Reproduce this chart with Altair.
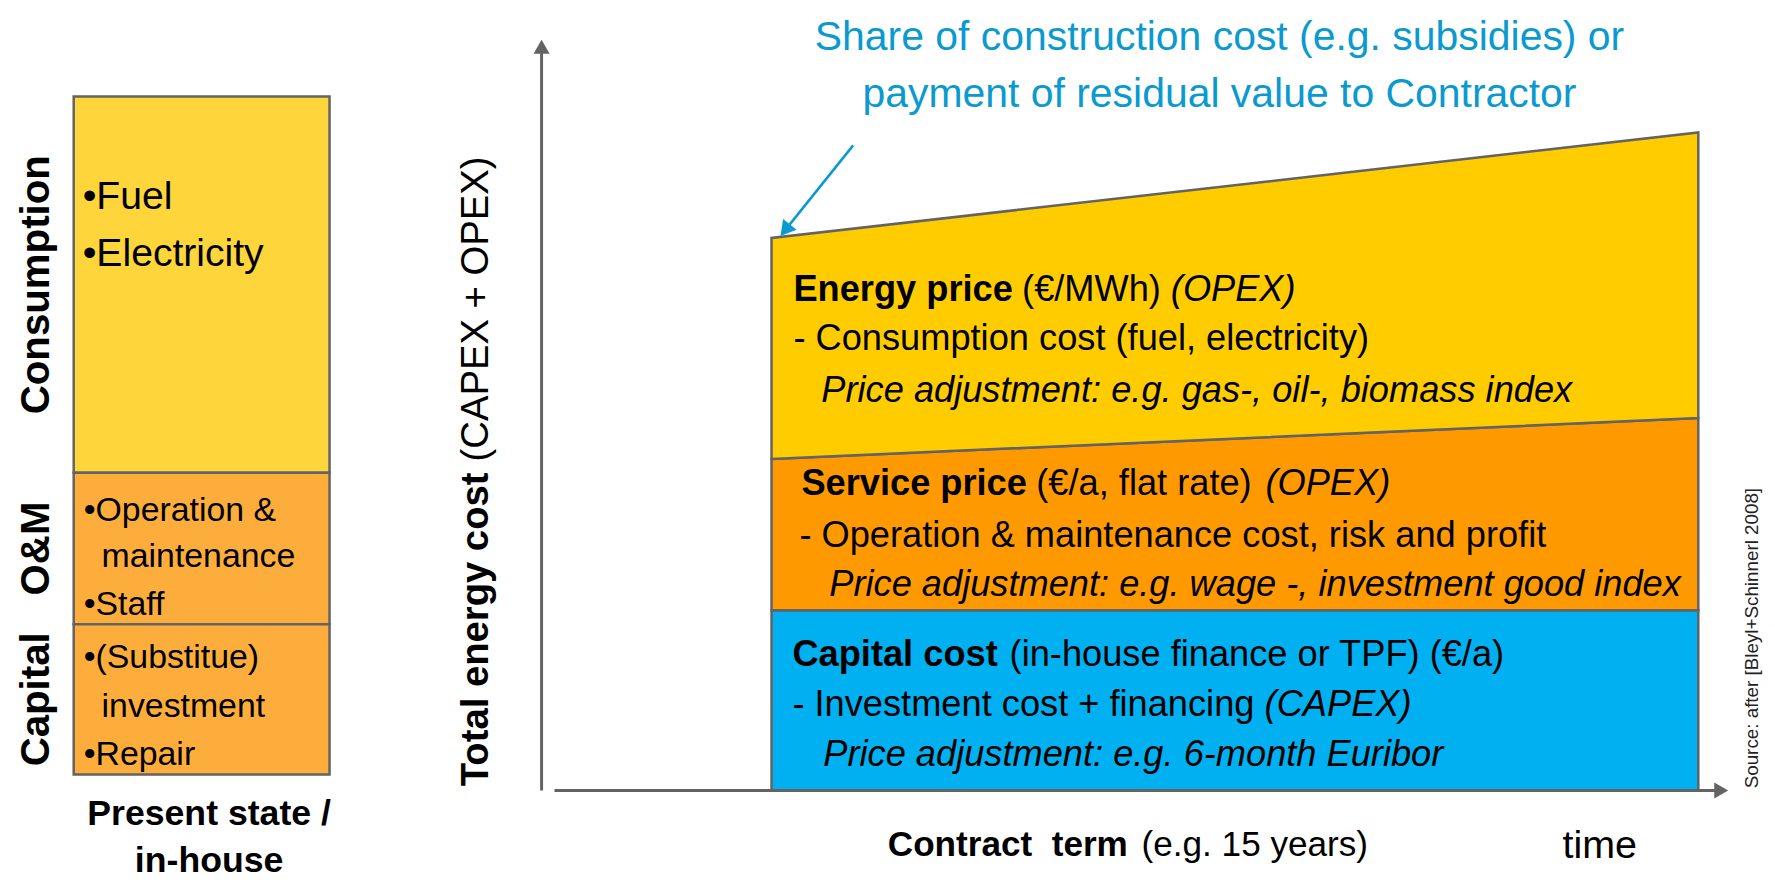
import math
import altair as alt
import pandas as pd

FONT = "Liberation Sans"
FACTOR = 0.86            # narrow-face sizes below -> regular face
STRETCH = FACTOR / 0.82  # how much wider the regular face renders than the narrow original

W, H = 1767, 872
X0, Y0 = 8, 8
xsc = alt.Scale(domain=[X0, X0 + W], nice=False, zero=False)
ysc = alt.Scale(domain=[Y0, Y0 + H], nice=False, zero=False, reverse=True)

OUTLINE = "#636363"

# ---------------- left column: present state / in-house ----------------
present_labels = ["Consumption", "O&M", "Capital"]
present_top = [95, 473, 625]
present_bottom = [473, 625, 776]
present_colors = ["#FED63C", "#FDAD3C", "#FDAD3C"]
present_left, present_right = 74, 331
present_label_x = 49

present_items = ["•Fuel", "•Electricity",
                 "•Operation &", "maintenance", "•Staff",
                 "•(Substitue)", "investment", "•Repair"]
present_items_x = [83, 83, 84, 102, 84, 84, 102, 84]
present_items_y = [208, 265, 521, 568, 616, 669, 718, 766]
present_items_size = [45.7, 45.7, 39.5, 39.5, 39.5, 39.5, 39.5, 39.5]

present_caption = ["Present state /", "in-house"]
present_caption_y = [827, 874]

# ---------------- main chart: contract model ----------------
term_x = [775, 1706]          # start / end of contract term
base_level = [792, 792]
capital_top = [611, 611]
service_top = [459, 418]
energy_top = [237, 131]
band_colors = ["#00B0F0", "#FF9900", "#FFCC00"]

axis_y_x = 544
axis_y_range = [792, 51]
axis_x_y = 792
axis_x_range = [557, 1723]

# annotation
note_lines = ["Share of construction cost (e.g. subsidies) or",
              "payment of residual value to Contractor"]
note_x = 1225
note_y = [48, 105]
note_color = "#0A9ACF"
arrow_start = (857, 144)
arrow_tip = (784, 235)

# band texts: (text, x, y, weight, style, align); first entry of each line is its left start
energy_texts = [("Energy price", 797, 300, "bold", "normal", "left"),
                ("(€/MWh)", 1016, 300, "normal", "normal", "left"),
                ("(OPEX)", 1278, 300, "normal", "italic", "right"),
                ("- Consumption cost (fuel, electricity)", 797, 350, "normal", "normal", "left"),
                ("Price adjustment: e.g. gas-, oil-, biomass index", 825, 402, "normal", "italic", "left")]
service_texts = [("Service price", 805, 495, "bold", "normal", "left"),
                 ("(€/a, flat rate)", 1030, 495, "normal", "normal", "left"),
                 ("(OPEX)", 1369, 495, "normal", "italic", "right"),
                 ("- Operation & maintenance cost, risk and profit", 803, 547, "normal", "normal", "left"),
                 ("Price adjustment: e.g. wage -, investment good index", 833, 597, "normal", "italic", "left")]
capital_texts = [("Capital cost", 796, 667, "bold", "normal", "left"),
                 ("(in-house finance or TPF) (€/a)", 1004, 667, "normal", "normal", "left"),
                 ("- Investment cost + financing", 796, 717, "normal", "normal", "left"),
                 ("(CAPEX)", 1389, 717, "normal", "italic", "right"),
                 ("Price adjustment: e.g. 6-month Euribor", 827, 767, "normal", "italic", "left")]
band_text_size = 42.3

y_title_bold = "Total energy cost"
y_title_rest = "(CAPEX + OPEX)"
y_title_x = 490
y_title_span = [773, 170]

x_title_bold = "Contract\u00a0 term"
x_title_rest = "(e.g. 15 years)"
x_title_span = [903, 1363]
x_title_y = 858
time_label = "time"
time_xy = (1607, 860)

source_text = "Source: after [Bleyl+Schinnerl 2008]"
source_xy = (1766, 639)


def X(f="x"):
    return alt.X(f"{f}:Q", scale=xsc, axis=None)


def Y(f="y"):
    return alt.Y(f"{f}:Q", scale=ysc, axis=None)


def stretch(v, pivot):
    return pivot + (v - pivot) * STRETCH


def text_layer(texts, xs_, ys_, size, weight="normal", style="normal", align="left",
               angle=0, color="#000000", baseline="alphabetic"):
    df = pd.DataFrame({"x": xs_, "y": ys_, "t": texts})
    return alt.Chart(df).mark_text(font=FONT, fontSize=round(size * FACTOR, 1), fontWeight=weight,
                                   fontStyle=style, align=align, angle=angle, color=color,
                                   baseline=baseline).encode(x=X(), y=Y(), text="t:N")


layers = []

# left column boxes
left_df = pd.DataFrame({"x": [present_left] * 3, "x2": [present_right] * 3,
                        "y": present_top, "y2": present_bottom, "c": present_colors})
layers.append(alt.Chart(left_df).mark_rect(stroke=OUTLINE, strokeWidth=2.5).encode(
    x=X(), x2="x2:Q", y=Y(), y2="y2:Q", fill=alt.Fill("c:N", scale=None)))

layers.append(text_layer(present_labels, [present_label_x] * 3,
                         [(a + b) / 2 for a, b in zip(present_top, present_bottom)],
                         47, weight="bold", align="center", angle=270))
for s in sorted(set(present_items_size)):
    idx = [i for i, v in enumerate(present_items_size) if v == s]
    layers.append(text_layer([present_items[i] for i in idx], [present_items_x[i] for i in idx],
                             [present_items_y[i] for i in idx], s))
layers.append(text_layer(present_caption, [210, 210], present_caption_y, 41.6,
                         weight="bold", align="center"))

# main bands
bounds = [base_level, capital_top, service_top, energy_top]
for i, col in enumerate(band_colors):
    df = pd.DataFrame({"x": term_x, "lo": bounds[i], "hi": bounds[i + 1]})
    layers.append(alt.Chart(df).mark_area(color=col, stroke=OUTLINE, strokeWidth=2.5,
                                          interpolate="linear").encode(
        x=X(), y=Y("lo"), y2="hi:Q"))

# axes
ax_df = pd.DataFrame({"x": [axis_y_x, axis_x_range[0]], "x2": [axis_y_x, axis_x_range[1]],
                      "y": [axis_y_range[0], axis_x_y], "y2": [axis_y_range[1], axis_x_y]})
layers.append(alt.Chart(ax_df).mark_rule(color=OUTLINE, strokeWidth=3).encode(
    x=X(), x2="x2:Q", y=Y(), y2="y2:Q"))
head_df = pd.DataFrame({"x": [axis_y_x, axis_x_range[1] + 6], "y": [axis_y_range[1] - 6, axis_x_y],
                        "a": [0, 90]})
layers.append(alt.Chart(head_df).mark_point(shape="triangle-up", filled=True, color=OUTLINE,
                                            opacity=1, size=260).encode(
    x=X(), y=Y(), angle=alt.Angle("a:Q", scale=None)))

# annotation arrow
dx, dy = arrow_tip[0] - arrow_start[0], arrow_tip[1] - arrow_start[1]
ln = math.hypot(dx, dy)
ux, uy = dx / ln, dy / ln
hc = (arrow_tip[0] - 7.5 * ux, arrow_tip[1] - 7.5 * uy)
ang = (math.degrees(math.atan2(dx, -dy)) + 360) % 360
arr_df = pd.DataFrame({"x": [arrow_start[0]], "y": [arrow_start[1]], "x2": [hc[0]], "y2": [hc[1]]})
layers.append(alt.Chart(arr_df).mark_rule(color=note_color, strokeWidth=2.5).encode(
    x=X(), y=Y(), x2="x2:Q", y2="y2:Q"))
ah_df = pd.DataFrame({"x": [hc[0]], "y": [hc[1]], "a": [ang]})
layers.append(alt.Chart(ah_df).mark_point(shape="triangle-up", filled=True, color=note_color,
                                          opacity=1, size=300).encode(
    x=X(), y=Y(), angle=alt.Angle("a:Q", scale=None)))
layers.append(text_layer(note_lines, [note_x] * 2, note_y, 47.8, align="center", color=note_color))

# band texts (segments of a line keep their relative layout, stretched about the line start)
for group in (energy_texts, service_texts, capital_texts):
    starts = {}
    for t, x, y, wt, st, al in group:
        starts.setdefault(y, x)
    for t, x, y, wt, st, al in group:
        layers.append(text_layer([t], [stretch(x, starts[y])], [y], band_text_size,
                                 weight=wt, style=st, align=al))

# axis titles (stretched about their centres)
yc = sum(y_title_span) / 2
layers.append(text_layer([y_title_bold], [y_title_x], [stretch(y_title_span[0], yc)], 44.7,
                         weight="bold", align="left", angle=270))
layers.append(text_layer([y_title_rest], [y_title_x], [stretch(y_title_span[1], yc)], 44.7,
                         align="right", angle=270))
xc = sum(x_title_span) / 2
layers.append(text_layer([x_title_bold], [stretch(x_title_span[0], xc)], [x_title_y], 41,
                         weight="bold"))
layers.append(text_layer([x_title_rest], [stretch(x_title_span[1], xc)], [x_title_y], 41,
                         align="right"))
layers.append(text_layer([time_label], [time_xy[0]], [time_xy[1]], 46, align="center"))
layers.append(text_layer([source_text], [source_xy[0]], [source_xy[1]], 22, align="center",
                         angle=270, color="#222222"))

chart = alt.layer(*layers).properties(
    width=W, height=H, padding=0, autosize=alt.AutoSizeParams(type="none"),
    background="white"
).configure_view(stroke=None)

chart.save("out.html", embed_options={"renderer": "svg", "actions": False})
